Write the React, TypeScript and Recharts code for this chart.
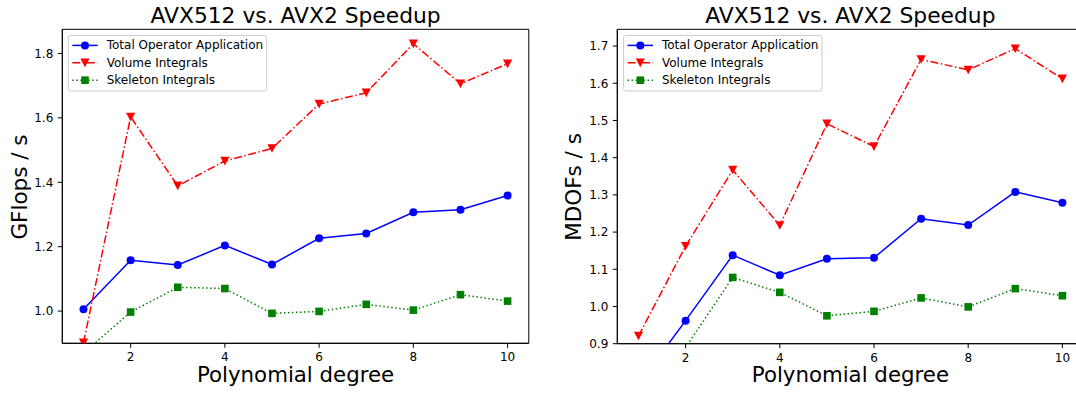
import React from "react";
import { LineChart, Line, XAxis, YAxis, ReferenceArea } from "recharts";

// Polynomial degrees on the x axis
const degrees = [1, 2, 3, 4, 5, 6, 7, 8, 9, 10];
const xTicks = [2, 4, 6, 8, 10];

// Left panel: GFlops/s speedup
const gflopsTotal = [1.006, 1.158, 1.143, 1.204, 1.145, 1.226, 1.241, 1.307, 1.315, 1.359];
const gflopsVolume = [0.902, 1.603, 1.389, 1.466, 1.505, 1.643, 1.678, 1.83, 1.706, 1.768];
const gflopsSkeleton = [0.87, 0.997, 1.074, 1.07, 0.993, 0.999, 1.021, 1.003, 1.051, 1.031];
const gflopsTicks = [1.0, 1.2, 1.4, 1.6, 1.8];

// Right panel: MDOFs/s speedup
const mdofsTotal = [0.79, 0.962, 1.138, 1.084, 1.128, 1.131, 1.236, 1.219, 1.308, 1.279];
const mdofsVolume = [0.921, 1.162, 1.367, 1.218, 1.491, 1.43, 1.664, 1.636, 1.693, 1.612];
const mdofsSkeleton = [0.7, 0.89, 1.078, 1.038, 0.975, 0.987, 1.023, 0.999, 1.048, 1.029];
const mdofsTicks = [0.9, 1.0, 1.1, 1.2, 1.3, 1.4, 1.5, 1.6, 1.7];

const seriesNames = ["Total Operator Application", "Volume Integrals", "Skeleton Integrals"];
const titleText = "AVX512 vs. AVX2 Speedup";
const xLabelText = "Polynomial degree";

const FONT = "'DejaVu Sans', sans-serif";
const BLUE = "#0000ff";
const RED = "#ff0000";
const GREEN = "#008000";
const DASHDOT = "8,2.5,1.5,2.5";
const DOTTED = "1.5,2.5";

const X_DOMAIN: [number, number] = [0.55, 10.45];

type DotProps = { cx?: number; cy?: number; index?: number };

const circleDot = (color: string) => (p: DotProps) => {
  if (p.cx == null || p.cy == null) return <g key={`c${p.index}`} />;
  return <circle key={`c${p.index}`} cx={p.cx} cy={p.cy} r={4} fill={color} />;
};
const triangleDot = (color: string) => (p: DotProps) => {
  if (p.cx == null || p.cy == null) return <g key={`t${p.index}`} />;
  const { cx, cy } = p;
  return (
    <polygon
      key={`t${p.index}`}
      points={`${cx - 4.6},${cy - 4.2} ${cx + 4.6},${cy - 4.2} ${cx},${cy + 4.4}`}
      fill={color}
    />
  );
};
const squareDot = (color: string) => (p: DotProps) => {
  if (p.cx == null || p.cy == null) return <g key={`s${p.index}`} />;
  return <rect key={`s${p.index}`} x={p.cx - 3.8} y={p.cy - 3.8} width={7.6} height={7.6} fill={color} />;
};

const buildRows = (total: number[], volume: number[], skeleton: number[]) =>
  degrees.map((d, i) => ({ degree: d, total: total[i], volume: volume[i], skeleton: skeleton[i] }));

const tickStyle = { fill: "#000", fontSize: 12, fontFamily: FONT };

type PanelProps = {
  left: number;
  width: number;
  yAxisWidth: number;
  marginRight: number;
  marginBottom: number;
  yDomain: [number, number];
  yTicks: number[];
  rows: ReturnType<typeof buildRows>;
};

function Panel(props: PanelProps) {
  const { left, width, yAxisWidth, marginRight, marginBottom, yDomain, yTicks, rows } = props;
  return (
    <div style={{ position: "absolute", left, top: 0 }}>
      <LineChart
        width={width}
        height={396}
        data={rows}
        margin={{ top: 29.3, right: marginRight, bottom: marginBottom, left: 0 }}
      >
        <XAxis
          dataKey="degree"
          type="number"
          domain={X_DOMAIN}
          ticks={xTicks}
          allowDataOverflow
          height={30}
          tick={tickStyle}
          tickSize={4.5}
          tickMargin={5}
          axisLine={{ stroke: "#000", strokeWidth: 1 }}
          tickLine={{ stroke: "#000", strokeWidth: 1 }}
        />
        <YAxis
          type="number"
          domain={yDomain}
          ticks={yTicks}
          allowDataOverflow
          width={yAxisWidth}
          tick={tickStyle}
          tickSize={4.5}
          tickMargin={4.5}
          tickFormatter={(v: number) => v.toFixed(1)}
          axisLine={{ stroke: "#000", strokeWidth: 1 }}
          tickLine={{ stroke: "#000", strokeWidth: 1 }}
        />
        <ReferenceArea
          x1={X_DOMAIN[0]}
          x2={X_DOMAIN[1]}
          y1={yDomain[0]}
          y2={yDomain[1]}
          fill="none"
          stroke="#000"
          strokeWidth={1}
          ifOverflow="visible"
        />
        <Line
          dataKey="total"
          stroke={BLUE}
          strokeWidth={1.5}
          dot={circleDot(BLUE)}
          activeDot={false}
          isAnimationActive={false}
        />
        <Line
          dataKey="volume"
          stroke={RED}
          strokeWidth={1.5}
          strokeDasharray={DASHDOT}
          dot={triangleDot(RED)}
          activeDot={false}
          isAnimationActive={false}
        />
        <Line
          dataKey="skeleton"
          stroke={GREEN}
          strokeWidth={1.5}
          strokeDasharray={DOTTED}
          dot={squareDot(GREEN)}
          activeDot={false}
          isAnimationActive={false}
        />
      </LineChart>
    </div>
  );
}

function LegendBox({ x, y }: { x: number; y: number }) {
  const rowGap = 17.4;
  const colors = [BLUE, RED, GREEN];
  const dashes = [undefined, DASHDOT, DOTTED];
  return (
    <g transform={`translate(${x},${y})`}>
      <rect x={0} y={0} width={198.4} height={55.6} rx={2.5} fill="#fff" fillOpacity={0.8} stroke="#cccccc" />
      {seriesNames.map((name, i) => {
        const cy = 10 + i * rowGap;
        const c = colors[i];
        const mx = 16.7;
        return (
          <g key={name}>
            <line x1={4} x2={29.4} y1={cy} y2={cy} stroke={c} strokeWidth={1.5} strokeDasharray={dashes[i]} />
            {i === 0 && <circle cx={mx} cy={cy} r={4} fill={c} />}
            {i === 1 && (
              <polygon points={`${mx - 4.6},${cy - 4.2} ${mx + 4.6},${cy - 4.2} ${mx},${cy + 4.4}`} fill={c} />
            )}
            {i === 2 && <rect x={mx - 3.8} y={cy - 3.8} width={7.6} height={7.6} fill={c} />}
            <text x={38.4} y={cy} dominantBaseline="central" fontSize={12} fontFamily={FONT} fill="#000">
              {name}
            </text>
          </g>
        );
      })}
    </g>
  );
}

export default function App() {
  const leftRows = buildRows(gflopsTotal, gflopsVolume, gflopsSkeleton);
  const rightRows = buildRows(mdofsTotal, mdofsVolume, mdofsSkeleton);
  return (
    <div
      style={{
        position: "absolute",
        left: 0,
        top: 0,
        width: 1076,
        height: 396,
        overflow: "hidden",
        background: "#fff",
        fontFamily: FONT,
      }}
    >
      <Panel
        left={0}
        width={560}
        yAxisWidth={62.3}
        marginRight={560 - 528.8}
        marginBottom={396 - 343.3 - 30}
        yDomain={[0.9, 1.875]}
        yTicks={gflopsTicks}
        rows={leftRows}
      />
      <Panel
        left={540}
        width={560}
        yAxisWidth={77.3}
        marginRight={560 - 543.6}
        marginBottom={396 - 343.7 - 30}
        yDomain={[0.9, 1.745]}
        yTicks={mdofsTicks}
        rows={rightRows}
      />
      <svg
        width={1076}
        height={396}
        style={{ position: "absolute", left: 0, top: 0, pointerEvents: "none" }}
      >
        <text x={295.6} y={22.7} textAnchor="middle" fontSize={21.8} fontFamily={FONT} fill="#000">
          {titleText}
        </text>
        <text x={850.4} y={22.7} textAnchor="middle" fontSize={21.8} fontFamily={FONT} fill="#000">
          {titleText}
        </text>
        <text x={295.6} y={381.5} textAnchor="middle" fontSize={21.3} fontFamily={FONT} fill="#000">
          {xLabelText}
        </text>
        <text x={850.4} y={381.5} textAnchor="middle" fontSize={21.3} fontFamily={FONT} fill="#000">
          {xLabelText}
        </text>
        <text
          transform="translate(26.5,187) rotate(-90)"
          textAnchor="middle"
          fontSize={21.5}
          fontFamily={FONT}
          fill="#000"
        >
          GFlops / s
        </text>
        <text
          transform="translate(580.5,187) rotate(-90)"
          textAnchor="middle"
          fontSize={21.5}
          fontFamily={FONT}
          fill="#000"
        >
          MDOFs / s
        </text>
        <LegendBox x={68.3} y={35.4} />
        <LegendBox x={623.6} y={35.4} />
      </svg>
    </div>
  );
}
